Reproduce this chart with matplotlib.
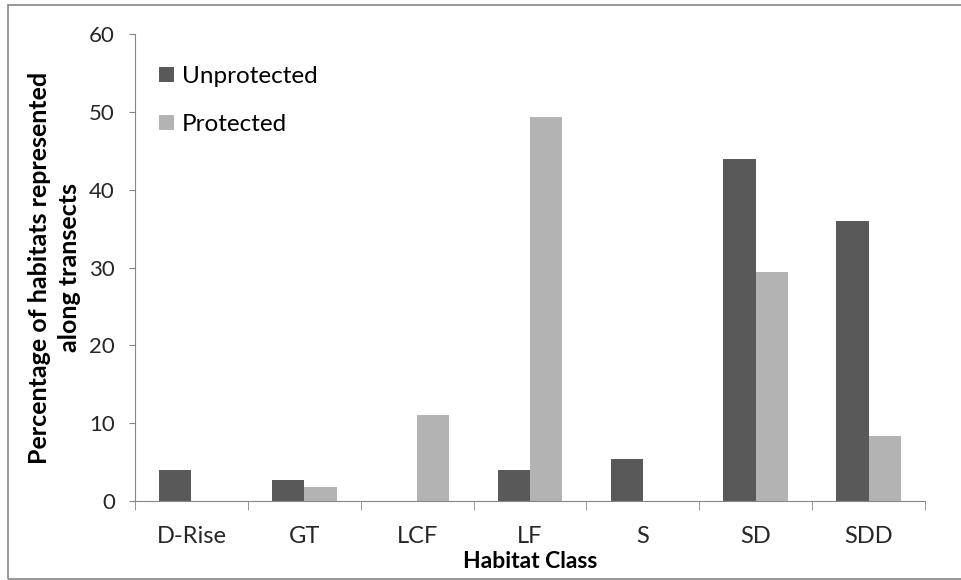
import matplotlib
matplotlib.use("Agg")
import matplotlib.pyplot as plt
import numpy as np
from matplotlib.patches import Rectangle

categories = ["D-Rise", "GT", "LCF", "LF", "S", "SD", "SDD"]
unprotected = [4.0, 2.7, 0.0, 4.0, 5.4, 44.0, 36.0]
protected = [0.0, 1.8, 11.0, 49.4, 0.0, 29.4, 8.3]
yticks = [0, 10, 20, 30, 40, 50, 60]

plt.rcParams['font.family'] = ['Lato', 'DejaVu Sans']

W, H = 961, 580
fig = plt.figure(figsize=(W/100, H/100), dpi=100)
ax = fig.add_axes([135/W, 1-501/H, (925-135)/W, (501-34)/H])

x = np.arange(len(categories))
w = 1/3.5
dark = "#595959"
light = "#b3b3b3"
ax.bar(x - w/2, unprotected, w, color=dark, label="Unprotected")
ax.bar(x + w/2, protected, w, color=light, label="Protected")

ax.set_xlim(-0.5, len(categories)-0.5)
ax.set_ylim(0, 60)
ax.set_yticks(yticks)
ax.set_yticklabels([str(t) for t in yticks], fontsize=16, color="#262626")
ax.set_xticks(x)
ax.set_xticklabels(categories, fontsize=17, color="#262626")
ax.set_xticks(np.arange(-0.5, len(categories)), minor=True)
ax.tick_params(axis='x', which='major', length=0, pad=18)
ax.tick_params(axis='x', which='minor', length=6.5, color="#868686")
ax.tick_params(axis='y', length=4.5, color="#868686", pad=10)

for s in ["top", "right"]:
    ax.spines[s].set_visible(False)
for s in ["left", "bottom"]:
    ax.spines[s].set_color("#868686")

ax.set_xlabel("Habitat Class", fontsize=16.5, fontweight="bold", labelpad=3)
ax.set_ylabel("Percentage of habitats represented\nalong transects", fontsize=18,
              fontweight="bold", labelpad=6, linespacing=1.35)

leg = ax.legend(loc="upper left", bbox_to_anchor=(0.018, 0.952), frameon=False,
                fontsize=17.5, handlelength=0.6, handleheight=0.6, handletextpad=0.35,
                labelspacing=1.1, borderaxespad=0)

fig.patches.append(Rectangle((8/W, 1-579/H), (W+5-8)/W, (579-4.5)/H, transform=fig.transFigure,
                             fill=False, edgecolor="#868686", linewidth=1.2))

fig.savefig("out.png", dpi=100)
